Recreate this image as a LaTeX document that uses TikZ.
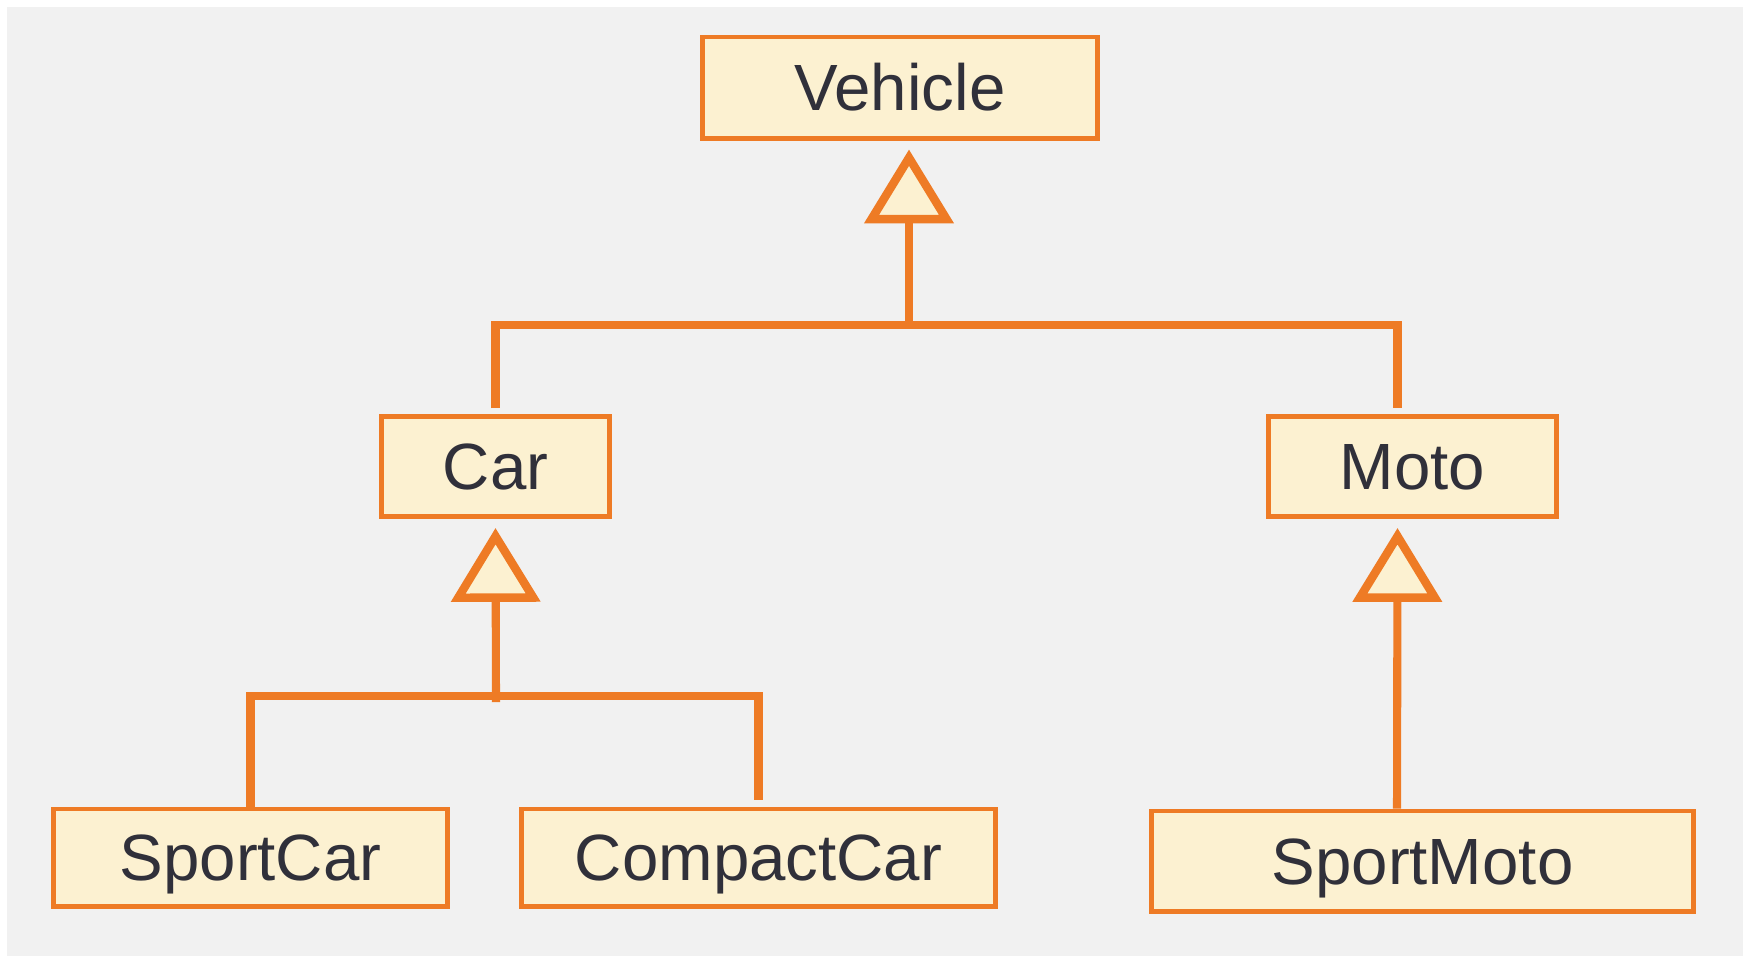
\documentclass[tikz,border=0pt]{standalone}
\usepackage{fontspec}
\setmainfont{Liberation Sans}
\usetikzlibrary{arrows.meta,calc}
\definecolor{umlorange}{HTML}{EE7B25}
\definecolor{boxfill}{HTML}{FCF1D1}
\definecolor{panelgray}{HTML}{F1F1F1}
\definecolor{inktext}{HTML}{30303A}
\tikzset{
  classbox/.style={draw=umlorange, fill=boxfill, line width=1.4pt, inner sep=0pt,
    minimum height=1.0cm, text height=13.3pt, text depth=0pt,
    text=inktext, font=\fontsize{18.6}{20}\selectfont},
  conn/.style={draw=umlorange, line width=2.3pt},
  inherit/.style={conn, -{Triangle[open, fill=boxfill, length=21pt, width=25pt, line width=2.4pt]}},
}
\begin{document}
\begin{tikzpicture}[x=0.01cm, y=-0.01cm]
  % canvas and grey panel
  \useasboundingbox (0,0) rectangle (1743,956);
  \fill[panelgray] (7,7) rectangle (1743,956);

  % classes
  \node[classbox, minimum width=3.94cm, minimum height=1.01cm] (vehicle) at (900,87.5) {Vehicle};
  \node[classbox, minimum width=2.27cm] (car) at (495.5,466.5) {Car};
  \node[classbox, minimum width=2.87cm] (moto) at (1412.5,466.5) {Moto};
  \node[classbox, minimum width=3.93cm, minimum height=0.97cm] (sportcar) at (250.5,857.5) {SportCar};
  \node[classbox, minimum width=4.73cm, minimum height=0.97cm] (compactcar) at (758.5,857.5) {CompactCar};
  \node[classbox, minimum width=5.41cm] (sportmoto) at (1422.5,861) {SportMoto};

  % Car and Moto generalize to Vehicle
  \coordinate (jv) at (909,325);
  \draw[conn] ($(car.north)+(0,-6)$) |- (jv) -| ($(moto.north)+(-15,-6)$);
  \draw[inherit] (jv) -- ($(vehicle.south)+(9,9)$);

  % SportCar and CompactCar generalize to Car
  \coordinate (jc) at (496,696);
  \draw[conn] (sportcar.north) |- (jc) -| ($(compactcar.north)+(0,-7)$);
  \draw[inherit] ($(jc)+(0,6)$) -- ($(car.south)+(0,9)$);

  % SportMoto generalizes to Moto
  \draw[inherit] ($(sportmoto.north)+(-25.5,0)$) -- ($(moto.south)+(-15,9)$);
\end{tikzpicture}
\end{document}
